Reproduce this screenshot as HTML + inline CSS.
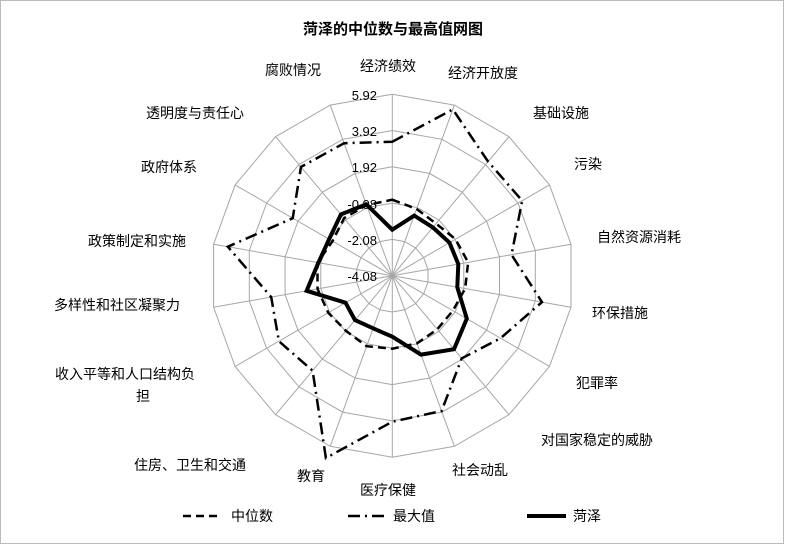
<!DOCTYPE html>
<html><head><meta charset="utf-8"><style>
body{margin:0;background:#fff;}
svg text{font-family:"Liberation Sans","Noto Sans CJK SC",sans-serif;fill:#000;}
</style></head><body>
<svg id="s" width="785" height="545" xmlns="http://www.w3.org/2000/svg">
<rect x="0.5" y="0.5" width="783" height="543" fill="#fff" stroke="#bcbcbc"/>
<text x="393" y="34" text-anchor="middle" font-size="15" font-weight="bold">菏泽的中位数与最高值网图</text>
<g id="grid" stroke="#a6a6a6" stroke-width="1" fill="none"></g>
<g font-size="13" text-anchor="end">
<text x="377" y="100">5.92</text>
<text x="377" y="136">3.92</text>
<text x="377" y="172">1.92</text>
<text x="377" y="209">-0.08</text>
<text x="377" y="245">-2.08</text>
<text x="377" y="281">-4.08</text>
</g>
<g id="data" fill="none" stroke="#000" stroke-linejoin="miter"></g>
<g font-size="14">
<text x="388" y="71" text-anchor="middle">经济绩效</text>
<text x="483" y="78" text-anchor="middle">经济开放度</text>
<text x="561" y="118" text-anchor="middle">基础设施</text>
<text x="588" y="169" text-anchor="middle">污染</text>
<text x="639" y="242" text-anchor="middle">自然资源消耗</text>
<text x="620" y="318" text-anchor="middle">环保措施</text>
<text x="597" y="388" text-anchor="middle">犯罪率</text>
<text x="597" y="445" text-anchor="middle">对国家稳定的威胁</text>
<text x="480" y="475" text-anchor="middle">社会动乱</text>
<text x="388" y="495" text-anchor="middle">医疗保健</text>
<text x="311" y="481" text-anchor="middle">教育</text>
<text x="190" y="470" text-anchor="middle">住房、卫生和交通</text>
<text x="55" y="379">收入平等和人口结构负</text>
<text x="143" y="401" text-anchor="middle">担</text>
<text x="117" y="310" text-anchor="middle">多样性和社区凝聚力</text>
<text x="137" y="246" text-anchor="middle">政策制定和实施</text>
<text x="169" y="172" text-anchor="middle">政府体系</text>
<text x="195" y="118" text-anchor="middle">透明度与责任心</text>
<text x="293" y="75" text-anchor="middle">腐败情况</text>
<text x="231" y="521">中位数</text>
<text x="393" y="521">最大值</text>
<text x="573" y="521">菏泽</text>
</g>
<line x1="183" y1="516" x2="222" y2="516" stroke="#000" stroke-width="2.5" stroke-dasharray="8 5"/>
<line x1="348" y1="516" x2="388" y2="516" stroke="#000" stroke-width="2.5" stroke-dasharray="12 5 2 5"/>
<line x1="527" y1="516" x2="566" y2="516" stroke="#000" stroke-width="4"/>
</svg>
<script>
var cx=392.3,cy=275.7,R=181.5,N=18,ns="http://www.w3.org/2000/svg";
function pt(k,r){var a=(k*20)*Math.PI/180;return (cx+r*Math.sin(a)).toFixed(1)+","+(cy-r*Math.cos(a)).toFixed(1);}
var g=document.getElementById("grid");
for(var i=1;i<=5;i++){var p=[];for(var k=0;k<N;k++)p.push(pt(k,R*i/5));var e=document.createElementNS(ns,"polygon");e.setAttribute("points",p.join(" "));g.appendChild(e);}
for(var k=0;k<N;k++){var e=document.createElementNS(ns,"line");var q=pt(k,R).split(",");e.setAttribute("x1",cx);e.setAttribute("y1",cy);e.setAttribute("x2",q[0]);e.setAttribute("y2",q[1]);g.appendChild(e);}
var mx=[134,177,149,150,121,152,125,108,144,146,194,124,131,123,167,115,142,141];
var md=[76,71,68,73,77,74,70,70,72,73,75,72,74,76,76,69,75,75];
var hz=[46,64,63,66,67,66,86,96,84,61,56,58,54,87,75,73,80,76];
var d=document.getElementById("data");
function poly(arr,w,dash){var p=[];for(var k=0;k<N;k++)p.push(pt(k,arr[k]));var e=document.createElementNS(ns,"polygon");e.setAttribute("points",p.join(" "));e.setAttribute("stroke-width",w);if(dash)e.setAttribute("stroke-dasharray",dash);d.appendChild(e);}
poly(md,2.5,"8 5");poly(mx,2.5,"12 5 2 5");poly(hz,4,null);
</script>
</body></html>
